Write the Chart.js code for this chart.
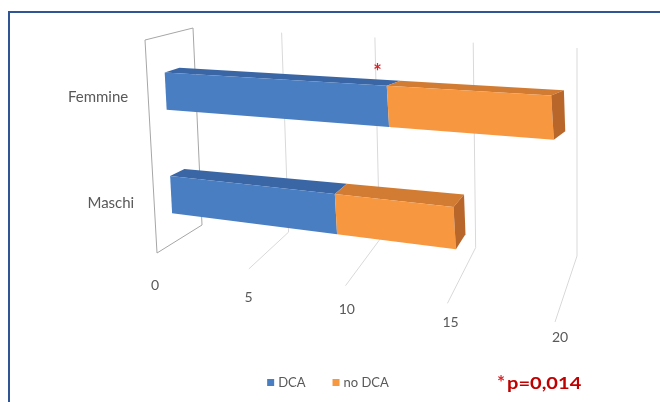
<!DOCTYPE html>
<html>
<head>
<meta charset="utf-8">
<script src="https://cdn.jsdelivr.net/npm/chart.js@4/dist/chart.umd.min.js"></script>
<style>
html, body { margin: 0; padding: 0; background: #fff; }
#wrap { position: relative; width: 660px; height: 402px; overflow: hidden; }
#wrap canvas { position: absolute; left: 0; top: 0; }
#frame { position: absolute; left: 8px; top: 11px; right: -10px; bottom: -10px;
         border-left: 2px solid #2f5597; border-top: 2px solid #2f5597; pointer-events: none; }
</style>
</head>
<body>
<div id="wrap">
  <canvas id="chart" width="660" height="402"></canvas>
  <div id="frame"></div>
</div>
<script>
const categories = ['Femmine', 'Maschi'];
const seriesNames = ['DCA', 'no DCA'];
const dcaValues = [12, 9];
const noDcaValues = [8, 6];
const xTicks = [0, 5, 10, 15, 20];
const starValue = 10;
const pLabel = 'p=0,014';

const FONT = 'Lato, "Open Sans", sans-serif';
const TEXT = '#595959';

// colours: front face, top face, end face
const faces = [
    { front: '#4a7ec2', top: '#3a66a6', side: '#2f5690' },
    { front: '#f7973f', top: '#d27c33', side: '#b9662a' }
];

// screen corners of the 3d plot box, [value][height][depth]
const view = {
    c000: [157, 253], c010: [145, 40], c001: [202, 225], c011: [193, 28],
    c100: [555, 322], c110: [532, 54], c101: [577, 256], c111: [577, 48],
    persp: -0.1, hShift: -0.018, barFront: 0.37, barBack: 0.68
};

function lerp(a, b, s) {
    return [a[0] + (b[0] - a[0]) * s, a[1] + (b[1] - a[1]) * s];
}

function persp(t) {
    return t * (1 + view.persp) / (1 + view.persp * t);
}

function proj(t, h, d) {
    const tp = persp(t);
    const front = lerp(lerp(view.c000, view.c100, tp), lerp(view.c010, view.c110, tp), h);
    const back = lerp(lerp(view.c001, view.c101, tp), lerp(view.c011, view.c111, tp), h);
    return lerp(front, back, d);
}

function poly(ctx, pts, fill, stroke) {
    ctx.beginPath();
    ctx.moveTo(pts[0][0], pts[0][1]);
    for (let i = 1; i < pts.length; i++) ctx.lineTo(pts[i][0], pts[i][1]);
    ctx.closePath();
    if (fill) { ctx.fillStyle = fill; ctx.fill(); }
    if (stroke) { ctx.strokeStyle = stroke; ctx.lineWidth = 1; ctx.stroke(); }
}

const box3d = {
    id: 'box3d',
    beforeDatasetsDraw(chart) {
        const ctx = chart.ctx;
        const area = chart.chartArea;
        const xs = chart.scales.x;
        const ys = chart.scales.y;
        const tOf = px => (px - area.left) / (area.right - area.left);
        const hOf = py => 1 - (py - area.top) / (area.bottom - area.top) + view.hShift;

        ctx.save();

        // value gridlines: back wall + floor
        ctx.lineWidth = 1;
        xs.ticks.forEach(tk => {
            if (tk.value === 0) return;
            const t = tOf(xs.getPixelForValue(tk.value));
            const a = proj(t, 1, 1), b = proj(t, 0, 1), c = proj(t, 0, 0);
            ctx.strokeStyle = '#d9d9d9';
            ctx.beginPath();
            ctx.moveTo(a[0], a[1]);
            ctx.lineTo(b[0], b[1]);
            ctx.lineTo(c[0], c[1]);
            ctx.stroke();
        });

        // side wall at zero
        const t0 = tOf(xs.getPixelForValue(0));
        poly(ctx, [proj(t0, 1, 0), proj(t0, 1, 1), proj(t0, 0, 1), proj(t0, 0, 0)], null, '#a6a6a6');

        // bars
        const dF = view.barFront, dB = view.barBack;
        const nSets = chart.data.datasets.length;
        chart.data.datasets.forEach((ds, i) => {
            const meta = chart.getDatasetMeta(i);
            const col = faces[i];
            meta.data.forEach((el, j) => {
                const p = el.getProps(['x', 'y', 'base', 'height'], true);
                const ta = tOf(Math.min(p.x, p.base));
                const tb = tOf(Math.max(p.x, p.base));
                const hc = hOf(p.y);
                const half = p.height / 2 / (area.bottom - area.top);
                const hT = hc + half, hB = hc - half;
                poly(ctx, [proj(ta, hT, dF), proj(tb, hT, dF), proj(tb, hT, dB), proj(ta, hT, dB)], col.top);
                poly(ctx, [proj(ta, hT, dF), proj(tb, hT, dF), proj(tb, hB, dF), proj(ta, hB, dF)], col.front);
                if (i === nSets - 1) {
                    poly(ctx, [proj(tb, hT, dF), proj(tb, hT, dB), proj(tb, hB, dB), proj(tb, hB, dF)], col.side);
                }
            });
        });

        // value tick labels along the front of the floor
        ctx.fillStyle = TEXT;
        ctx.font = '14px ' + FONT;
        ctx.textAlign = 'center';
        ctx.textBaseline = 'middle';
        xs.ticks.forEach(tk => {
            const t = tOf(xs.getPixelForValue(tk.value));
            const tp = persp(t);
            const q = proj(t, 0, 0);
            ctx.fillText(String(tk.value), q[0] - 2 + 7 * tp, q[1] + 32 - 17 * tp);
        });

        // category labels
        ctx.font = '15px ' + FONT;
        ctx.textAlign = 'right';
        ys.getLabels().forEach((lab, j) => {
            const q = proj(t0, hOf(ys.getPixelForValue(j)), 0);
            ctx.fillText(lab, q[0] - 20, q[1]);
        });

        // significance star above the first bar
        const el0 = chart.getDatasetMeta(0).data[0].getProps(['y', 'height'], true);
        const hStar = hOf(el0.y) + el0.height / 2 / (area.bottom - area.top) + 0.03;
        const s = proj(tOf(xs.getPixelForValue(starValue)), hStar, 1);
        ctx.fillStyle = '#d9252a';
        ctx.font = 'bold 20px ' + FONT;
        ctx.textAlign = 'center';
        ctx.fillText('*', s[0] + 2, s[1] + 5);

        ctx.restore();
        return false;
    },
    afterDraw(chart) {
        const ctx = chart.ctx;
        ctx.save();
        // legend
        ctx.font = '13px ' + FONT;
        ctx.textBaseline = 'middle';
        ctx.textAlign = 'left';
        const box = 7, gap = 4, spacing = 27;
        let total = 0;
        seriesNames.forEach((n, i) => {
            total += box + gap + ctx.measureText(n).width + (i ? spacing : 0);
        });
        let x = 328 - total / 2;
        const y = 383;
        seriesNames.forEach((n, i) => {
            ctx.fillStyle = faces[i].front;
            ctx.fillRect(x, y - 4, box, box);
            x += box + gap;
            ctx.fillStyle = TEXT;
            ctx.fillText(n, x, y);
            x += ctx.measureText(n).width + spacing;
        });
        // p value note
        ctx.fillStyle = '#d9252a';
        ctx.font = 'bold 19px ' + FONT;
        ctx.fillText('*', 497, 383);
        ctx.fillStyle = '#c00000';
        ctx.font = 'bold 17px ' + FONT;
        ctx.save();
        ctx.translate(507, 384);
        ctx.scale(1.18, 1);
        ctx.fillText(pLabel, 0, 0);
        ctx.restore();
        ctx.restore();
    }
};

new Chart(document.getElementById('chart'), {
    type: 'bar',
    data: {
        labels: categories,
        datasets: [
            { label: seriesNames[0], data: dcaValues, backgroundColor: faces[0].front,
              barPercentage: 0.6, categoryPercentage: 0.6 },
            { label: seriesNames[1], data: noDcaValues, backgroundColor: faces[1].front,
              barPercentage: 0.6, categoryPercentage: 0.6 }
        ]
    },
    options: {
        indexAxis: 'y',
        responsive: false,
        animation: false,
        layout: { padding: 0 },
        scales: {
            x: {
                stacked: true, min: 0, max: 20, display: false,
                afterBuildTicks: scale => { scale.ticks = xTicks.map(v => ({ value: v })); }
            },
            y: { stacked: true, display: false, offset: true }
        },
        plugins: {
            legend: { display: false },
            tooltip: { enabled: false }
        }
    },
    plugins: [box3d]
});
</script>
</body>
</html>
